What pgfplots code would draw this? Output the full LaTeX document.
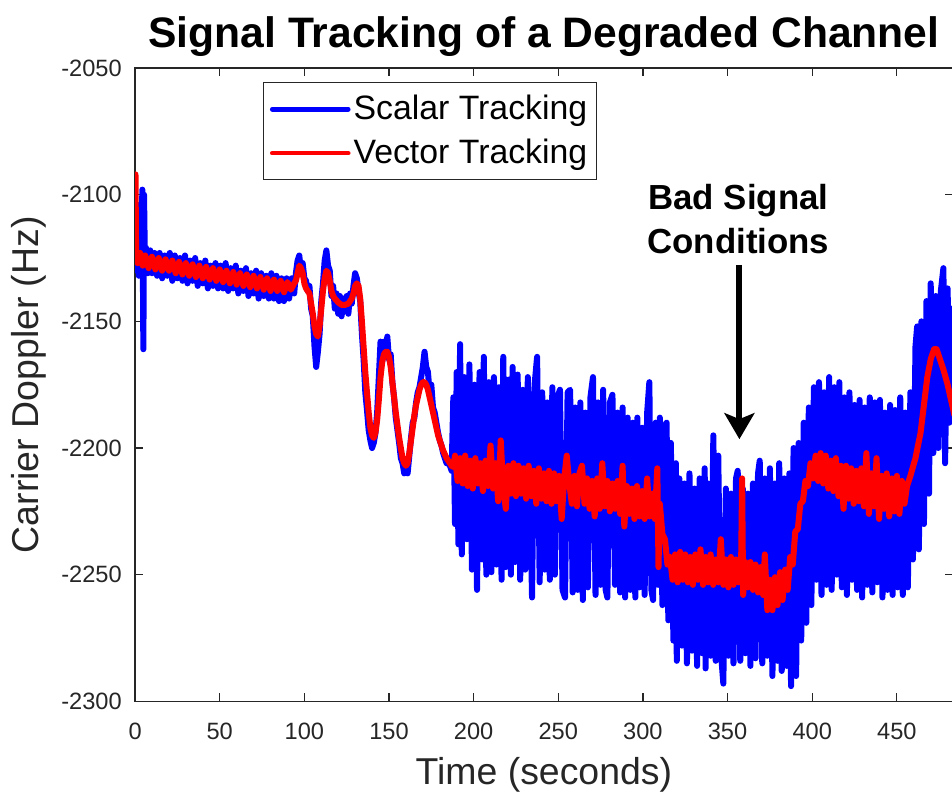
\documentclass[border=0pt]{standalone}
\usepackage{fontspec}
\setmainfont{Liberation Sans}
\usepackage{pgfplots}
\pgfplotsset{compat=1.18}
\usetikzlibrary{arrows.meta}
\definecolor{axgray}{rgb}{0.15,0.15,0.15}
\begin{document}
\begin{tikzpicture}
\begin{axis}[
 scale only axis, width=408.6pt, height=316.5pt,
 xmin=0, xmax=483, ymin=-2300, ymax=-2050,
 xtick={0,50,...,450}, ytick={-2300,-2250,...,-2050},
 tick align=inside, major tick length=4pt,
 axis line style={axgray, line width=0.6pt},
 every tick/.style={axgray, line width=0.6pt},
 tick label style={font=\fontsize{11.8}{14}\selectfont, text=axgray},
 /pgf/number format/assume math mode=true,
 /pgf/number format/set thousands separator={},
 xticklabel style={anchor=base, yshift=-19pt},
 yticklabel style={anchor=east, inner sep=0pt, xshift=-6.5pt},
 xlabel={Time (seconds)}, ylabel={Carrier Doppler (Hz)},
 label style={font=\fontsize{18.7}{22}\selectfont, text=axgray},
 xlabel style={at={(axis description cs:0.5,-0.1311)}, anchor=base},
 ylabel style={at={(axis description cs:-0.1176,0.5)}, anchor=base},
 title={Signal Tracking of a Degraded Channel},
 title style={font=\bfseries\fontsize{21.3}{25}\selectfont, at={(axis description cs:0.5,1)}, anchor=base, yshift=4.5pt},
 legend style={at={(axis description cs:0.157,0.978)}, anchor=north west, draw=axgray, line width=0.5pt, fill=white,
   font=\fontsize{16.9}{20}\selectfont, inner xsep=3pt, inner ysep=5pt, row sep=5.2pt, nodes={inner sep=1.5pt}},
 legend cell align=left,
 legend image code/.code={\draw[#1, line width=2.3pt] (1pt,0pt) -- (39pt,0pt);},
 clip=true,
]
\addplot[blue, line width=3pt, line join=round, line cap=round] coordinates {
(0,-2125)(0.3,-2110)(0.8,-2130)(1.5,-2104)(2.2,-2132)(3,-2108)(3.6,-2128)(4.3,-2098)(4.9,-2161)(5.3,-2100)(5.8,-2126)(6.5,-2121)(7.5,-2131)
(9,-2122)(10,-2131)(11.5,-2123)(13,-2132)(14.5,-2123)(16,-2133)(17.5,-2124)(19,-2132)(20.5,-2123)(22,-2134)(23.5,-2124)(25,-2133)(26.5,-2125)(28,-2134)(29.5,-2124)(31,-2135)(32.5,-2126)(34,-2134)(35.5,-2125)(37,-2136)(38.5,-2127)(40,-2135)(41.5,-2126)(43,-2137)(44.5,-2128)(46,-2136)(47.5,-2127)(49,-2137)(50.5,-2128)(52,-2137)(53.5,-2127)(55,-2138)(56.5,-2129)(58,-2137)(59.5,-2128)(61,-2139)(62.5,-2130)(64,-2138)(65.5,-2129)(67,-2140)(68.5,-2131)(70,-2139)(71.5,-2130)(73,-2141)(74.5,-2131)(76,-2140)(77.5,-2132)(79,-2141)(80.5,-2131)(82,-2141)(83.5,-2132)(85,-2142)(86.5,-2133)(88,-2142)(89.5,-2133)(91,-2141)(92.5,-2133)(94,-2139)
(95,-2131)(96,-2126)(97,-2124)(98,-2130)(99,-2127)(100,-2133)(101,-2134)(102,-2138)(103,-2136)(104,-2145)(105,-2148)(106,-2160)(107,-2168)(108,-2162)(109,-2155)(110,-2142)(111,-2135)(112,-2126)(113,-2122)(114,-2128)(115,-2130)(116,-2140)(117,-2136)(118,-2145)(119,-2139)(120,-2147)(121,-2140)(122,-2148)(123,-2141)(124,-2146)(125,-2140)(126,-2147)(127,-2139)(128,-2143)(129,-2136)(130,-2131)(131,-2133)(132,-2138)(133,-2142)(134,-2155)(135,-2165)(136,-2178)(137,-2185)(138,-2193)(139,-2197)(140,-2200)(141,-2198)(142,-2194)(143,-2186)(144,-2172)(145,-2158)(146,-2166)(147,-2158)(148,-2164)(149,-2156)(150,-2165)(151,-2163)(152,-2174)(153,-2180)(154,-2188)(155,-2193)(156,-2198)(157,-2204)(158,-2206)(159,-2210)(160,-2208)(161,-2210)(162,-2203)(163,-2196)(164,-2190)(165,-2188)(166,-2182)(167,-2178)(168,-2176)(169,-2172)(170,-2168)(171,-2162)(172,-2168)(173,-2170)(174,-2178)(175,-2175)(176,-2184)(177,-2186)(178,-2190)(179,-2194)(180,-2197)(181,-2199)(182,-2202)(183,-2204)(184,-2206)(185,-2206)(186,-2207)(187,-2209)
(188,-2180)(189,-2230)(190,-2170)(191,-2238)(192,-2159)(193,-2242)(194.5,-2172)(196,-2236)(197.5,-2167)(199,-2248)(200.5,-2175)(202,-2256)(203.5,-2170)(205,-2244)(206,-2164)(207.5,-2250)(209,-2174)(210.5,-2249)(212,-2172)(213.5,-2246)(215,-2176)(216.5,-2252)(217.5,-2164)(219,-2247)(220.5,-2173)(222,-2250)(223,-2168)(224.5,-2245)(226,-2171)(227.5,-2252)(229,-2177)(230.5,-2248)(232,-2172)(234.5,-2259)(236,-2175)(237.5,-2164)(239,-2253)(240.5,-2178)(242,-2248)(243.5,-2182)(245,-2252)(246.5,-2176)(248,-2250)(249.5,-2180)(251,-2177)(252.5,-2256)(254,-2259)(255.5,-2178)(257,-2177)(258.5,-2257)(260,-2184)(261.5,-2256)(263,-2182)(264.5,-2260)(266,-2186)(267.5,-2255)(269,-2180)(270.5,-2172)(272,-2258)(273.5,-2182)(275,-2254)(276.5,-2177)(278,-2256)(279,-2259)(280.5,-2182)(282,-2179)(283.5,-2254)(285,-2186)(286.5,-2257)(288,-2184)(289.5,-2259)(291,-2188)(292.5,-2256)(294,-2190)(295.5,-2259)(296.7,-2188)(298,-2255)(299.5,-2192)(301,-2258)(302.5,-2186)(303.8,-2174)(305,-2256)(306,-2260)(307.5,-2190)(309,-2254)(310,-2188)(311.5,-2262)(313,-2191)(314,-2190)(315,-2268)(316.5,-2198)(318,-2276)(319.5,-2206)(320,-2284)(321.5,-2212)(323,-2278)(324.5,-2214)(326,-2285)(327.5,-2210)(329,-2280)(330.5,-2216)(332,-2286)(333.5,-2212)(335,-2281)(336.5,-2208)(337,-2287)(338.5,-2214)(340,-2282)(341.6,-2195)(343,-2284)(344.5,-2203)(346,-2280)(347.5,-2293)(349,-2216)(350.5,-2282)(352,-2218)(353.5,-2285)(355,-2212)(356,-2209)(357.5,-2284)(359,-2216)(360.5,-2281)(362,-2218)(363.5,-2286)(365,-2214)(366.5,-2283)(368,-2210)(369,-2205)(370.5,-2285)(372,-2212)(373.5,-2282)(375,-2208)(376.5,-2290)(378,-2214)(379.5,-2284)(380.5,-2206)(382,-2288)(383.5,-2212)(385,-2286)(386.5,-2210)(387.5,-2294)(389,-2200)(390.5,-2290)(392,-2198)(393.5,-2276)(395,-2190)(396.5,-2269)(398,-2184)(399.5,-2262)(401,-2176)(402.5,-2252)(404,-2174)(405.5,-2258)(407,-2178)(408.5,-2254)(410,-2172)(411.5,-2256)(413,-2176)(414.5,-2250)(416,-2174)(417.5,-2255)(419,-2180)(420.5,-2258)(422,-2178)(423.5,-2252)(425,-2183)(426.5,-2256)(428,-2181)(429.5,-2259)(431,-2184)(432.5,-2254)(434,-2180)(435.5,-2257)(437,-2182)(438.5,-2253)(440,-2181)(441.5,-2259)(443,-2186)(444.5,-2256)(446,-2183)(447.5,-2258)(449,-2185)(450.5,-2255)(452,-2180)(453.5,-2258)(455,-2186)(456.5,-2255)(458,-2178)(459.5,-2244)(461,-2160)(462,-2152)(463,-2240)(464.5,-2150)(466,-2230)(467.5,-2142)(469,-2218)(470,-2135)(471.5,-2202)(473,-2140)(474.5,-2200)(476,-2138)(477.5,-2129)(478.5,-2206)(480,-2137)(481,-2190)(482.5,-2145)(484,-2188)
};
\addlegendentry{Scalar Tracking}
\addplot[red, line width=3pt, line join=round, line cap=round] coordinates {
(0,-2126)(0.25,-2092)(0.6,-2122)(1.5,-2127)(3,-2123)(4.5,-2128)(6,-2124)(8,-2129)(10,-2124.5)(12,-2129.5)(14,-2125)(16,-2130)(18,-2125.5)(20,-2130)(22,-2126)(24,-2131)(26,-2126.5)(28,-2131.5)(30,-2127)(32,-2132)(34,-2127.5)(36,-2132.5)(38,-2128)(40,-2133)(42,-2128.5)(44,-2133.5)(46,-2129)(48,-2134)(50,-2129.5)(52,-2134.5)(54,-2130)(56,-2135)(58,-2130.5)(60,-2135.5)(62,-2131)(64,-2136)(66,-2131.5)(68,-2136.5)(70,-2132)(72,-2137)(74,-2132.5)(76,-2137.5)(78,-2133)(80,-2138)(82,-2133.5)(84,-2138)(86,-2134)(88,-2138.5)(90,-2134.5)(92,-2137.5)(94,-2135)
(95,-2134)(96,-2131)(97,-2128)(98,-2129)(99,-2131)(100,-2135)(101,-2137)(102,-2138)(103,-2139)(104,-2143)(105,-2147)(106,-2152)(107,-2155)(108,-2156)(109,-2152)(110,-2145)(111,-2138)(112,-2133)(113,-2130)(114,-2131)(115,-2134)(116,-2138)(117,-2140)(118,-2141)(120,-2142.5)(122,-2143.5)(124,-2143.5)(126,-2143)(128,-2141)(129,-2139)(130,-2136)(131,-2135)(132,-2136)(133,-2141)(134,-2150)(135,-2160)(136,-2170)(137,-2178)(138,-2186)(139,-2192)(140,-2195)(141,-2196)(142,-2194)(143,-2189)(144,-2181)(145,-2172)(146,-2166)(147,-2163)(148,-2162)(149,-2162)(150,-2164)(151,-2168)(152,-2174)(153,-2180)(154,-2186)(155,-2191)(156,-2196)(157,-2200)(158,-2204)(159,-2206)(160,-2207)(161,-2206)(162,-2202)(163,-2197)(164,-2192)(165,-2187)(166,-2183)(167,-2180)(168,-2177)(169,-2175)(170,-2174)(171,-2174)(172,-2175)(173,-2177)(174,-2180)(175,-2183)(176,-2186)(177,-2189)(178,-2192)(179,-2195)(180,-2197)(181,-2199)(182,-2201)(183,-2202.5)(184,-2204)(185,-2205)(186,-2206)(187,-2207)(188,-2207.5)
(189,-2203)(190.5,-2213)(192,-2204)(193.5,-2214)(195,-2203)(196.5,-2215)(198,-2205)(199.5,-2216)(201,-2204)(202.5,-2214)(204,-2206)(205.5,-2217)(207,-2205)(208.5,-2215)(210,-2199)(211.5,-2216)(213,-2206)(214.5,-2221)(216,-2197)(217.5,-2216)(219,-2224)(220.5,-2207)(222,-2218)(223.5,-2206)(225,-2219)(226.5,-2207)(228,-2218)(229.5,-2208)(231,-2220)(232.5,-2207)(234,-2219)(235.5,-2209)(237,-2222)(238.5,-2208)(240,-2220)(241.5,-2210)(243,-2221)(244.5,-2209)(246,-2222)(247.5,-2210)(249,-2221)(250.5,-2211)(252,-2228)(253.5,-2212)(255,-2203)(256.5,-2214)(258,-2222)(259.5,-2211)(261,-2223)(262.5,-2210)(264,-2207)(265.5,-2222)(267,-2212)(268.5,-2224)(270,-2213)(271.5,-2227)(273,-2212)(274.5,-2224)(276,-2206)(277.5,-2223)(279,-2213)(280.5,-2225)(282,-2214)(283.5,-2224)(285,-2213)(286.5,-2226)(288,-2207)(289,-2231)(290.5,-2215)(292,-2226)(293.5,-2216)(295,-2228)(296.5,-2215)(298,-2227)(299.5,-2217)(301,-2228)(302.5,-2212)(304,-2227)(305.5,-2218)(307,-2228)(308.5,-2208)(309.2,-2247)(310,-2222)(311.5,-2234)(313,-2236)(314.5,-2246)(316,-2243)
(317.5,-2252)(319,-2242)(320.5,-2253)(322,-2241)(323.5,-2252)(325,-2242)(326.5,-2253)(328,-2243)(329.5,-2254)(331,-2242)(332.5,-2252)(334,-2240)(335.5,-2254)(337,-2243)(338.5,-2253)(340,-2242)(341.5,-2254)(343,-2244)(344.5,-2253)(346,-2236)(347.5,-2254)(349,-2244)(350.5,-2255)(352,-2243)(353.5,-2254)(355,-2244)(356.5,-2253)(358,-2246)(358.6,-2212)(359.2,-2258)(360.5,-2245)(362,-2255)(363.5,-2245)(365,-2256)(366.5,-2246)(368,-2257)(369.5,-2247)(371,-2258)(372,-2242)(373.5,-2264)(375,-2252)(376.5,-2264)(378,-2251)(379.5,-2262)(381,-2249)(382.5,-2260)(384,-2248)(385.5,-2256)(387,-2243)(388.5,-2246)(390,-2233)(391.5,-2232)(393,-2222)(394.5,-2221)(396,-2213)(397.5,-2215)(399,-2206)(400.5,-2212)(402,-2203)(403.5,-2213)(405,-2202)(406.5,-2214)(408,-2203)(409.5,-2216)(411,-2205)(412.5,-2217)(414,-2204)(415.5,-2219)(417,-2207)(418.5,-2224)(420,-2207)(421.5,-2220)(423,-2208)(424.5,-2222)(426,-2209)(427.5,-2221)(429,-2208)(430.5,-2223)(432,-2202)(433.5,-2226)(435,-2210)(436.5,-2223)(438,-2204)(439.5,-2228)(441,-2211)(442.5,-2224)(444,-2210)(445.5,-2227)(447,-2212)(448.5,-2225)(450,-2211)(451.5,-2226)(453,-2213)(454.5,-2222)(456,-2215)(458,-2211)(461,-2204)(464,-2194)(466,-2183)(468,-2172)(470,-2165)(472,-2161)(473.5,-2161)(475,-2164)(477.5,-2169)(480,-2175)(483,-2184)(484,-2187)
};
\addlegendentry{Vector Tracking}
\node[font=\bfseries\fontsize{17.4}{20}\selectfont, anchor=base] at (axis cs:356.4,-2106) {Bad Signal};
\node[font=\bfseries\fontsize{17.4}{20}\selectfont, anchor=base] at (axis cs:356.4,-2123.4) {Conditions};
\draw[line width=3pt, -{Stealth[length=13pt, width=15pt, inset=3pt]}] (axis cs:357,-2127.7) -- (axis cs:357,-2196.5);
\coordinate (sw) at (rel axis cs:0,0);
\coordinate (ne) at (rel axis cs:1,1);
\end{axis}
\pgfresetboundingbox
\path[use as bounding box] ([shift={(-67.5pt,-46.5pt)}]sw) rectangle ([shift={(-0.35pt,34pt)}]ne);
\end{tikzpicture}
\end{document}
